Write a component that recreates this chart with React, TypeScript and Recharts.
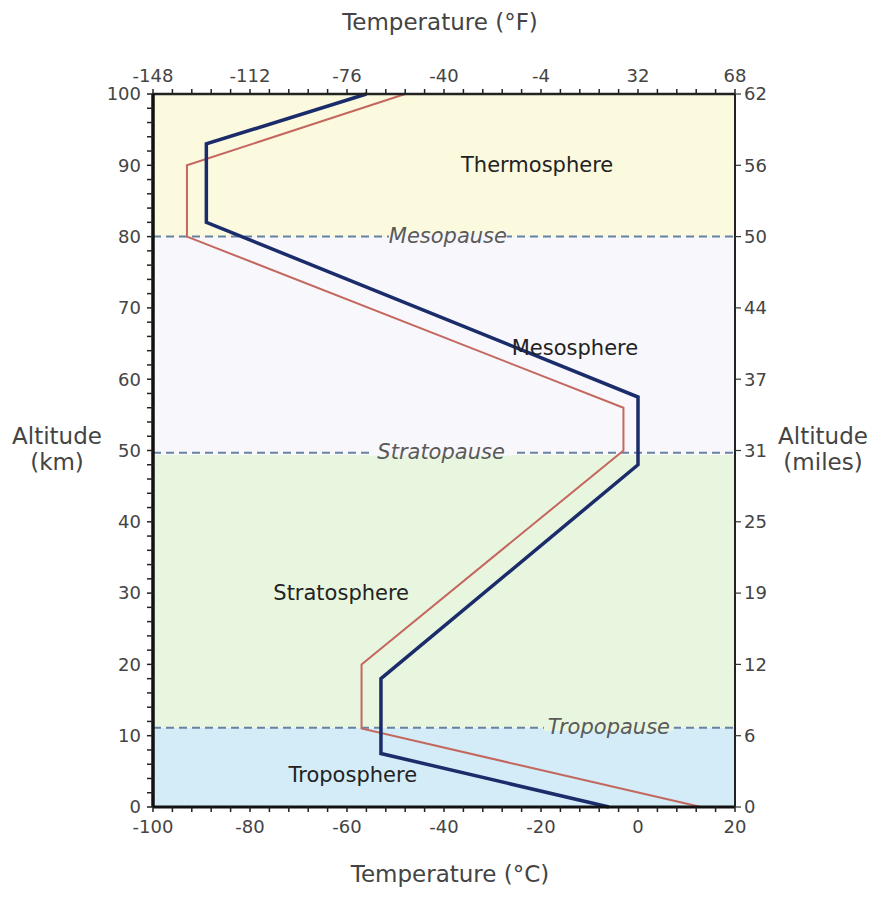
import React from "react";
import {
  LineChart,
  Line,
  XAxis,
  YAxis,
  CartesianGrid,
  ReferenceArea,
  ReferenceLine,
  ReferenceDot,
} from "recharts";

// temperature (°C) vs altitude (km)
const standardProfile = [
  { t: 13, alt: 0 },
  { t: -57, alt: 11 },
  { t: -57, alt: 20 },
  { t: -3, alt: 50 },
  { t: -3, alt: 56 },
  { t: -93, alt: 80 },
  { t: -93, alt: 90 },
  { t: -48, alt: 100 },
];

const observedProfile = [
  { t: -6, alt: 0 },
  { t: -53, alt: 7.5 },
  { t: -53, alt: 18 },
  { t: 0, alt: 48 },
  { t: 0, alt: 57.5 },
  { t: -89, alt: 82 },
  { t: -89, alt: 93 },
  { t: -56, alt: 100 },
];

const celsiusTicks = [-100, -80, -60, -40, -20, 0, 20];
const fahrenheitLabels = [-148, -112, -76, -40, -4, 32, 68];
const kmTicks = [0, 10, 20, 30, 40, 50, 60, 70, 80, 90, 100];
const mileLabels = [0, 6, 12, 19, 25, 31, 37, 44, 50, 56, 62];

// minor tick positions
const minorTempTicks = [
  -100, -96, -92, -88, -84, -80, -76, -72, -68, -64, -60, -56, -52, -48, -44, -40,
  -36, -32, -28, -24, -20, -16, -12, -8, -4, 0, 4, 8, 12, 16, 20,
];
const minorKmTicks = [
  0, 2, 4, 6, 8, 10, 12, 14, 16, 18, 20, 22, 24, 26, 28, 30, 32, 34, 36, 38, 40,
  42, 44, 46, 48, 50, 52, 54, 56, 58, 60, 62, 64, 66, 68, 70, 72, 74, 76, 78, 80,
  82, 84, 86, 88, 90, 92, 94, 96, 98, 100,
];

const layers = [
  { name: "Troposphere", from: 0, to: 11.1, fill: "#d3ecf8", labelT: -58.8, labelAlt: 4.5 },
  { name: "Stratosphere", from: 11.1, to: 49.4, fill: "#e9f6df", labelT: -61.2, labelAlt: 30 },
  { name: "Mesosphere", from: 49.4, to: 80, fill: "#f8f7fb", labelT: -13, labelAlt: 64.4 },
  { name: "Thermosphere", from: 80, to: 100, fill: "#fbfadf", labelT: -20.8, labelAlt: 90 },
];

const pauses = [
  { name: "Tropopause", alt: 11.1, labelT: -6, bg: "#e9f6df" },
  { name: "Stratopause", alt: 49.7, labelT: -40.6, bg: "#f8f7fb" },
  { name: "Mesopause", alt: 80, labelT: -39.2, bg: "#f8f7fb" },
];

const FONT = "'DejaVu Sans', Verdana, sans-serif";
const tickStyle = { fontSize: 18, fill: "#444", fontFamily: FONT };

const PauseLabel = ({ viewBox, text, bg }: any) => {
  const w = text.length * 12.2 + 8;
  return (
    <g>
      {/* just covers the dashed line behind the text */}
      <rect x={viewBox.x - w / 2} y={viewBox.y - 3} width={w} height={6} fill={bg} />
      <text
        x={viewBox.x}
        y={viewBox.y + 6}
        textAnchor="middle"
        fontFamily={FONT}
        fontStyle="italic"
        fontSize={21}
        fill="#5a5a5a"
      >
        {text}
      </text>
    </g>
  );
};

const LayerLabel = ({ viewBox, text }: any) => (
  <text
    x={viewBox.x}
    y={viewBox.y + 7}
    textAnchor="middle"
    fontFamily={FONT}
    fontSize={21}
    fill="#222"
  >
    {text}
  </text>
);

const titleStyle: React.CSSProperties = {
  position: "absolute",
  fontFamily: FONT,
  fontSize: 23,
  color: "#444",
  textAlign: "center",
  lineHeight: "26px",
  whiteSpace: "nowrap",
};

export default function App() {
  return (
    <div style={{ position: "absolute", left: 0, top: 0, width: 869, height: 897, background: "#fff" }}>
      <LineChart
        width={869}
        height={897}
        margin={{ top: 64, right: 94, bottom: 60, left: 113 }}
      >
        <XAxis
          xAxisId="c"
          type="number"
          dataKey="t"
          domain={[-100, 20]}
          ticks={minorTempTicks}
          interval={0}
          orientation="bottom"
          height={30}
          tickFormatter={(v: number) => (celsiusTicks.includes(v) ? String(v) : "")}
          tick={tickStyle}
          tickSize={5}
          tickMargin={8}
          axisLine={{ stroke: "#111", strokeWidth: 3 }}
          tickLine={{ stroke: "#222", strokeWidth: 1.5 }}
        />
        <XAxis
          xAxisId="f"
          type="number"
          dataKey="t"
          domain={[-100, 20]}
          ticks={minorTempTicks}
          interval={0}
          orientation="top"
          height={30}
          tickFormatter={(v: number) => {
            const i = celsiusTicks.indexOf(v);
            return i >= 0 ? String(fahrenheitLabels[i]) : "";
          }}
          tick={tickStyle}
          tickSize={5}
          tickMargin={7}
          axisLine={{ stroke: "#222", strokeWidth: 2.5 }}
          tickLine={{ stroke: "#222", strokeWidth: 1.5 }}
        />
        <YAxis
          yAxisId="km"
          type="number"
          dataKey="alt"
          domain={[0, 100]}
          ticks={minorKmTicks}
          interval={0}
          orientation="left"
          width={40}
          tickFormatter={(v: number) => (kmTicks.includes(v) ? String(v) : "")}
          tick={tickStyle}
          tickSize={6}
          tickMargin={6}
          axisLine={{ stroke: "#111", strokeWidth: 3.5 }}
          tickLine={{ stroke: "#222", strokeWidth: 1.5 }}
        />
        <YAxis
          yAxisId="mi"
          type="number"
          dataKey="alt"
          domain={[0, 100]}
          ticks={kmTicks}
          interval={0}
          orientation="right"
          width={40}
          tickFormatter={(v: number) => String(mileLabels[kmTicks.indexOf(v)])}
          tick={tickStyle}
          tickSize={6}
          tickMargin={3}
          axisLine={{ stroke: "#222", strokeWidth: 2 }}
          tickLine={{ stroke: "#333", strokeWidth: 1.2 }}
        />

        {layers.map((l) => (
          <ReferenceArea
            key={l.name}
            xAxisId="c"
            yAxisId="km"
            x1={-100}
            x2={20}
            y1={l.from}
            y2={l.to}
            fill={l.fill}
            fillOpacity={1}
            stroke="none"
          />
        ))}

        <CartesianGrid
          xAxisId="c"
          yAxisId="km"
          horizontalValues={kmTicks.slice(1, -1)}
          verticalValues={celsiusTicks.slice(1, -1)}
          stroke="#c4c4c4"
          strokeDasharray="2 3"
        />

        {pauses.map((p) => (
          <ReferenceLine
            key={p.name}
            xAxisId="c"
            yAxisId="km"
            y={p.alt}
            stroke="#6582a3"
            strokeWidth={2}
            strokeDasharray="8 5"
          />
        ))}

        {/* invisible copy so the °F and miles axes get a series */}
        <Line
          xAxisId="f"
          yAxisId="mi"
          data={standardProfile}
          dataKey="alt"
          type="linear"
          stroke="none"
          dot={false}
          activeDot={false}
          isAnimationActive={false}
        />
        <Line
          xAxisId="c"
          yAxisId="km"
          data={standardProfile}
          dataKey="alt"
          type="linear"
          stroke="#c4685f"
          strokeWidth={2}
          dot={false}
          isAnimationActive={false}
        />
        <Line
          xAxisId="c"
          yAxisId="km"
          data={observedProfile}
          dataKey="alt"
          type="linear"
          stroke="#1b2c6b"
          strokeWidth={3.5}
          dot={false}
          isAnimationActive={false}
        />

        {pauses.map((p) => (
          <ReferenceDot
            key={p.name + "-label"}
            xAxisId="c"
            yAxisId="km"
            x={p.labelT}
            y={p.alt}
            r={0}
            fill="none"
            stroke="none"
            label={(props: any) => <PauseLabel {...props} text={p.name} bg={p.bg} />}
          />
        ))}
        {layers.map((l) => (
          <ReferenceDot
            key={l.name + "-label"}
            xAxisId="c"
            yAxisId="km"
            x={l.labelT}
            y={l.labelAlt}
            r={0}
            fill="none"
            stroke="none"
            label={(props: any) => <LayerLabel {...props} text={l.name} />}
          />
        ))}
      </LineChart>

      <div style={{ ...titleStyle, left: 320, top: 9, width: 240 }}>Temperature (°F)</div>
      <div style={{ ...titleStyle, left: 330, top: 861, width: 240 }}>Temperature (°C)</div>
      <div style={{ ...titleStyle, left: 7, top: 423, width: 100 }}>
        Altitude
        <br />
        (km)
      </div>
      <div style={{ ...titleStyle, left: 775, top: 423, width: 96 }}>
        Altitude
        <br />
        (miles)
      </div>
    </div>
  );
}
